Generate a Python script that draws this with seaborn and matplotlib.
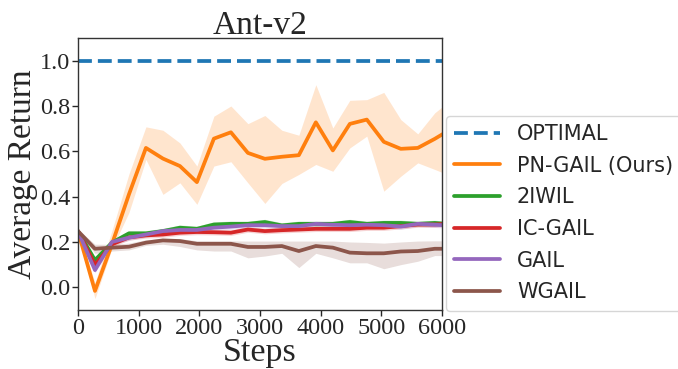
import numpy as np
import pandas as pd
import matplotlib
matplotlib.use("Agg")
import matplotlib.pyplot as plt
import seaborn as sns
from matplotlib.lines import Line2D

sns.set_theme(style="white")
plt.rcParams['font.family'] = ['Liberation Serif', 'DejaVu Serif']

steps = [0, 280, 560, 840, 1120, 1400, 1680, 1960, 2240, 2520, 2800, 3080,
         3360, 3640, 3920, 4200, 4480, 4760, 5040, 5320, 5600, 5880, 6160]

pn_mean = [0.248, -0.016, 0.19, 0.41, 0.615, 0.568, 0.535, 0.464, 0.656, 0.684, 0.593, 0.567,
           0.576, 0.583, 0.728, 0.604, 0.721, 0.740, 0.642, 0.611, 0.615, 0.655, 0.70]
pn_low = [0.24, -0.05, 0.17, 0.33, 0.564, 0.41, 0.461, 0.366, 0.535, 0.554, 0.461, 0.37,
          0.458, 0.498, 0.542, 0.512, 0.615, 0.667, 0.424, 0.49, 0.549, 0.52, 0.49]
pn_high = [0.256, 0.02, 0.25, 0.50, 0.708, 0.693, 0.637, 0.535, 0.755, 0.80, 0.722, 0.758,
           0.693, 0.671, 0.894, 0.703, 0.825, 0.828, 0.86, 0.74, 0.677, 0.77, 0.83]

iwil_mean = [0.248, 0.12, 0.197, 0.238, 0.238, 0.248, 0.263, 0.258, 0.277, 0.28, 0.28, 0.288,
             0.273, 0.28, 0.28, 0.28, 0.288, 0.28, 0.284, 0.284, 0.28, 0.284, 0.278]
icgail_mean = [0.248, 0.10, 0.19, 0.22, 0.229, 0.233, 0.241, 0.244, 0.243, 0.241, 0.255, 0.248,
               0.252, 0.255, 0.258, 0.258, 0.258, 0.263, 0.263, 0.27, 0.277, 0.277, 0.282]
gail_mean = [0.248, 0.076, 0.20, 0.219, 0.233, 0.248, 0.253, 0.253, 0.263, 0.268, 0.274, 0.274,
             0.27, 0.27, 0.28, 0.276, 0.274, 0.276, 0.274, 0.268, 0.28, 0.276, 0.272]
wgail_mean = [0.248, 0.17, 0.175, 0.179, 0.197, 0.207, 0.204, 0.192, 0.192, 0.192, 0.178, 0.178,
              0.182, 0.16, 0.182, 0.175, 0.153, 0.15, 0.15, 0.158, 0.16, 0.17, 0.17]
wgail_low = [0.24, 0.15, 0.16, 0.165, 0.185, 0.19, 0.18, 0.165, 0.16, 0.16, 0.13, 0.138,
             0.15, 0.087, 0.15, 0.13, 0.108, 0.108, 0.082, 0.10, 0.115, 0.14, 0.14]
wgail_high = [0.256, 0.19, 0.19, 0.195, 0.21, 0.215, 0.215, 0.205, 0.205, 0.205, 0.204, 0.204,
              0.204, 0.204, 0.204, 0.204, 0.2, 0.198, 0.195, 0.2, 0.204, 0.205, 0.205]

band_others = 0.012
optimal = 1.0

labels = ["PN-GAIL (Ours)", "2IWIL", "IC-GAIL", "GAIL", "WGAIL"]
colors = ["#ff7f0e", "#2ca02c", "#d62728", "#9467bd", "#8c564b"]

rows = []
for lab, arr in zip(labels, [pn_mean, iwil_mean, icgail_mean, gail_mean, wgail_mean]):
    for s, v in zip(steps, arr):
        rows.append({"Steps": s, "Return": v, "Method": lab})
df = pd.DataFrame(rows)

fig = plt.figure(figsize=(6.78, 3.69), dpi=100)
ax = fig.add_axes([0.115, 0.160, 0.537, 0.737])

LW = 2.7
ax.axhline(optimal, color="#1f77b4", ls="--", lw=LW, label="OPTIMAL")

# bands
ax.fill_between(steps, pn_low, pn_high, color=colors[0], alpha=0.2, lw=0)
for arr, c in zip([iwil_mean, icgail_mean, gail_mean], colors[1:4]):
    a = np.array(arr)
    ax.fill_between(steps, a - band_others, a + band_others, color=c, alpha=0.2, lw=0)
ax.fill_between(steps, wgail_low, wgail_high, color=colors[4], alpha=0.2, lw=0)

sns.lineplot(data=df, x="Steps", y="Return", hue="Method", hue_order=labels,
             palette=colors, lw=LW, ax=ax, legend=False)

ax.set_xlim(0, 6000)
ax.set_ylim(-0.1, 1.1)
ax.set_xticks([0, 1000, 2000, 3000, 4000, 5000, 6000])
ax.set_yticks([0.0, 0.2, 0.4, 0.6, 0.8, 1.0])
ax.set_yticklabels(["0.0", "0.2", "0.4", "0.6", "0.8", "1.0"])
ax.tick_params(axis="both", labelsize=17.5, length=4, width=1, direction="out",
               bottom=True, left=True, pad=1.5)
ax.set_xlabel("Steps", fontsize=24.5)
ax.xaxis.set_label_coords(0.5, -0.102)
ax.set_ylabel("Average Return", fontsize=24)
ax.yaxis.set_label_coords(-0.11, 0.5)
ax.set_title("Ant-v2", fontsize=24, pad=3)
for sp in ax.spines.values():
    sp.set_color("#333333")
    sp.set_linewidth(1.0)

handles = [Line2D([], [], color="#1f77b4", ls="--", lw=LW)]
handles += [Line2D([], [], color=c, lw=LW) for c in colors]
leg = ax.legend(handles, ["OPTIMAL"] + labels, loc="lower left",
                bbox_to_anchor=(1.011, -0.003), borderaxespad=0,
                prop={"family": "DejaVu Sans", "size": 15}, handlelength=2.2,
                labelspacing=0.56, frameon=True)

fig.savefig("out.png", dpi=100)
